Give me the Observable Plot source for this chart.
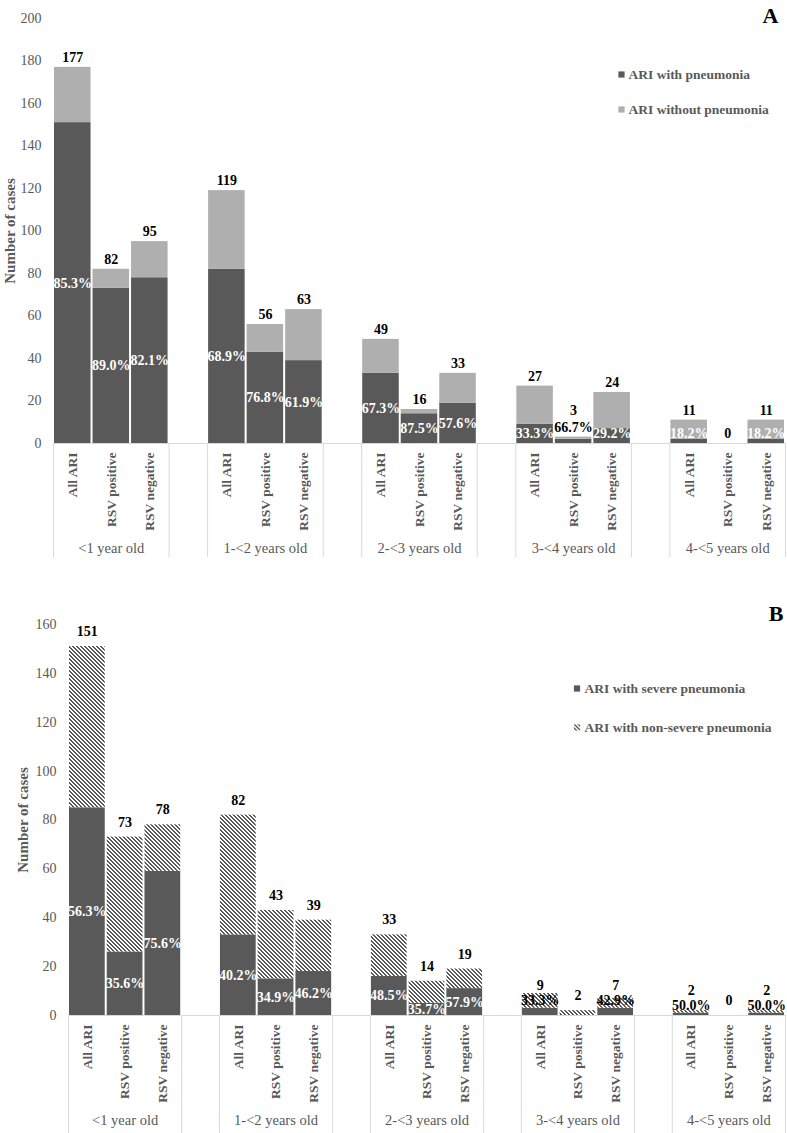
<!DOCTYPE html>
<html><head><meta charset="utf-8">
<script src="https://cdn.jsdelivr.net/npm/d3@7"></script>
<script src="https://cdn.jsdelivr.net/npm/@observablehq/plot@0.6"></script>
<style>
body{margin:0;background:#fff;}
#chart{width:787px;}
#chart svg{display:block;}
</style></head><body><div id="chart"></div>
<script>
// ---- data ----
const ageGroups = ["<1 year old", "1-<2 years old", "2-<3 years old", "3-<4 years old", "4-<5 years old"];
const subgroups = ["All ARI", "RSV positive", "RSV negative"];
const ariTotal       = [177, 82, 95, 119, 56, 63, 49, 16, 33, 27, 3, 24, 11, 0, 11];
const ariPneumonia   = [151, 73, 78,  82, 43, 39, 33, 14, 19,  9, 2,  7,  2, 0,  2];
const severePneumonia= [ 85, 26, 59,  33, 15, 18, 16,  5, 11,  3, 0,  3,  1, 0,  1];
const legendA = ["ARI with pneumonia", "ARI without pneumonia"];
const legendB = ["ARI with severe pneumonia", "ARI with non-severe pneumonia"];
const yTicksA = [0, 20, 40, 60, 80, 100, 120, 140, 160, 180, 200];
const yTicksB = [0, 20, 40, 60, 80, 100, 120, 140, 160];
const yTitle = "Number of cases";

// ---- styles ----
const F = '"Liberation Serif", "Times New Roman", serif';
const DARK = "#595959", LIGHT = "#afafaf", GRAY = "#595959", LINE = "#d9d9d9";
const W = 787;

const rows = [];
ageGroups.forEach((g, gi) => subgroups.forEach((s, si) => {
  const i = gi * 3 + si;
  rows.push({group: g, sub: s, slot: gi * 4 + si, total: ariTotal[i], pneu: ariPneumonia[i], severe: severePneumonia[i]});
}));
const groupRows = ageGroups.map((g, gi) => ({group: g, start: gi * 4, end: gi * 4 + 3, mid: gi * 4 + 1.5}));
const groupEdges = groupRows.flatMap(d => [d.start, d.end]);
const pct = (a, b) => (a / b * 100).toFixed(1) + "%";
const xc = d => d.slot + 0.5;

function axisMarks(ticks, titleDx, lineBottom) {
  return [
    Plot.ruleY([0], {stroke: LINE, strokeWidth: 1}),
    Plot.ruleX(groupEdges, {x: d => d, y1: 0, y2: 0, insetBottom: -lineBottom, stroke: LINE}),
    Plot.axisY(ticks, {tickSize: 0, tickPadding: 12, label: null, fontSize: 14, color: GRAY, fontFamily: F}),
    Plot.text([yTitle], {frameAnchor: "left", text: d => d, rotate: -90, dx: titleDx, textAnchor: "middle",
      fontWeight: "bold", fontSize: 15, fill: GRAY, fontFamily: F}),
    Plot.text(rows, {x: xc, y: 0, text: "sub", rotate: -90, textAnchor: "end", dy: 9,
      fontWeight: "bold", fontSize: 13.5, fill: GRAY, fontFamily: F}),
    Plot.text(groupRows, {x: "mid", y: 0, text: "group", dy: 105, fontSize: 14.5, fill: GRAY, fontFamily: F})
  ];
}

function legendMarks(items, fills, dxSq, dxTx, dy0, step) {
  return items.flatMap((name, i) => [
    Plot.dot([name], {frameAnchor: "top-left", dx: dxSq, dy: dy0 + step * i, symbol: "square", r: 3.5, fill: fills[i], stroke: "none"}),
    Plot.text([name], {frameAnchor: "top-left", dx: dxTx, dy: dy0 + step * i, text: d => d, textAnchor: "start",
      lineAnchor: "middle", fontWeight: "bold", fontSize: 13.5, fill: GRAY, fontFamily: F})
  ]);
}

// ---- Panel A ----
const aLabelY = d => Math.max(d.pneu / 2, 4.5);
const aInside = rows.filter(d => d.pneu > 0 && aLabelY(d) < d.total - 1);
const aOutside = rows.filter(d => d.pneu > 0 && !(aLabelY(d) < d.total - 1));
const aTotNormal = rows.filter(d => !aOutside.includes(d));

const svgA = Plot.plot({
  width: W, height: 562,
  marginLeft: 53, marginRight: 2, marginTop: 18, marginBottom: 119,
  x: {domain: [0, 19], axis: null},
  y: {domain: [0, 200]},
  style: {fontFamily: F, background: "#fff"},
  marks: [
    ...axisMarks(yTicksA, -43, 114),
    Plot.rect(rows, {x1: "slot", x2: d => d.slot + 1, y1: 0, y2: "pneu", fill: DARK, insetLeft: 1, insetRight: 1}),
    Plot.rect(rows, {x1: "slot", x2: d => d.slot + 1, y1: "pneu", y2: "total", fill: LIGHT, insetLeft: 1, insetRight: 1}),
    Plot.text(aInside, {x: xc, y: aLabelY, text: d => pct(d.pneu, d.total), fill: "#fff", fontWeight: "bold", fontSize: 14, fontFamily: F}),
    Plot.text(aOutside, {x: xc, y: "total", dy: -10, text: d => pct(d.pneu, d.total), fill: "#000", fontWeight: "bold", fontSize: 14, fontFamily: F}),
    Plot.text(aTotNormal, {x: xc, y: "total", dy: -10, text: d => String(d.total), fill: "#000", fontWeight: "bold", fontSize: 14, fontFamily: F}),
    Plot.text(aOutside, {x: xc, y: "total", dy: -27, text: d => String(d.total), fill: "#000", fontWeight: "bold", fontSize: 14, fontFamily: F}),
    ...legendMarks(legendA, [DARK, LIGHT], 568, 575, 56, 35),
    Plot.text(["A"], {frameAnchor: "top-right", text: d => d, dx: -7, dy: -3, textAnchor: "end", lineAnchor: "middle",
      fontWeight: "bold", fontSize: 22, fill: "#000", fontFamily: F})
  ]
});

// ---- Panel B ----
const bInside = rows.filter(d => d.severe >= 5);
const bOutside = rows.filter(d => d.severe > 0 && d.severe < 5);
const bTotNormal = rows.filter(d => !bOutside.includes(d));
const HATCH = "url(#hatchB)";

const svgB = Plot.plot({
  width: W, height: 571,
  marginLeft: 68, marginRight: 2, marginTop: 62, marginBottom: 118,
  x: {domain: [0, 19], axis: null},
  y: {domain: [0, 160]},
  style: {fontFamily: F, background: "#fff"},
  marks: [
    ...axisMarks(yTicksB, -45, 120),
    Plot.rect(rows, {x1: "slot", x2: d => d.slot + 1, y1: 0, y2: "severe", fill: DARK, insetLeft: 1, insetRight: 1}),
    Plot.rect(rows, {x1: "slot", x2: d => d.slot + 1, y1: "severe", y2: "pneu", fill: HATCH, insetLeft: 1, insetRight: 1}),
    Plot.text(bInside, {x: xc, y: d => d.severe / 2, text: d => pct(d.severe, d.pneu), fill: "#fff", fontWeight: "bold", fontSize: 14, fontFamily: F}),
    Plot.text(bOutside, {x: xc, y: "severe", dy: -8, text: d => pct(d.severe, d.pneu), fill: "#000", fontWeight: "bold", fontSize: 14, fontFamily: F}),
    Plot.text(bTotNormal, {x: xc, y: "pneu", dy: -15, text: d => String(d.pneu), fill: "#000", fontWeight: "bold", fontSize: 14, fontFamily: F}),
    Plot.text(bOutside, {x: xc, y: "severe", dy: -23, text: d => String(d.pneu), fill: "#000", fontWeight: "bold", fontSize: 14, fontFamily: F}),
    ...legendMarks(legendB, [DARK, HATCH], 508.5, 516, 64, 39),
    Plot.text(["B"], {frameAnchor: "top-right", text: d => d, dx: -2, dy: -11, textAnchor: "end", lineAnchor: "middle",
      fontWeight: "bold", fontSize: 22, fill: "#000", fontFamily: F})
  ]
});

// crisp "\" diagonal hatch: 4px tile, 2px-wide staircase lines
const pat = d3.select(svgB).insert("defs", ":first-child")
  .append("pattern").attr("id", "hatchB").attr("patternUnits", "userSpaceOnUse")
  .attr("width", 4).attr("height", 4);
pat.append("rect").attr("width", 4).attr("height", 4).attr("fill", "#fff");
[0, 1, 2, 3].forEach(r => {
  [r, (r + 1) % 4].forEach(c => {
    pat.append("rect").attr("x", c).attr("y", r).attr("width", 1).attr("height", 1)
      .attr("fill", "#595959").attr("shape-rendering", "crispEdges");
  });
});

const chart = document.getElementById("chart");
chart.appendChild(svgA);
chart.appendChild(svgB);
</script></body></html>
